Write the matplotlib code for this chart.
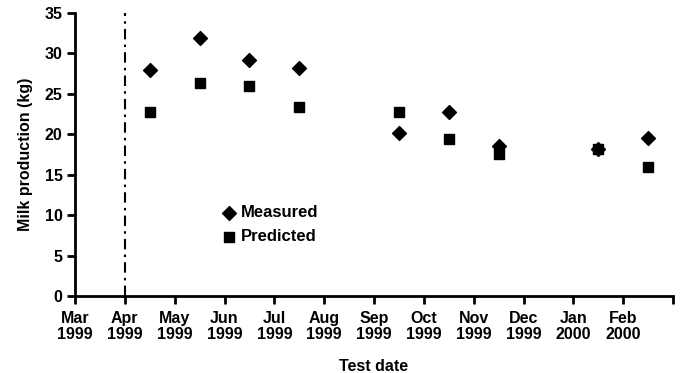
import numpy as np
import matplotlib.pyplot as plt

plt.rcParams['font.family'] = ['Liberation Sans', 'DejaVu Sans']
plt.rcParams['font.weight'] = 'bold'

# tick labels (month start), Mar 1999 .. Mar 2000
month_labels = ['Mar\n1999', 'Apr\n1999', 'May\n1999', 'Jun\n1999', 'Jul\n1999',
                'Aug\n1999', 'Sep\n1999', 'Oct\n1999', 'Nov\n1999', 'Dec\n1999',
                'Jan\n2000', 'Feb\n2000', '']

# test dates as month index (0 = start of Mar 1999), mid-month
test_date = [1.5, 2.5, 3.5, 4.5, 6.5, 7.5, 8.5, 10.5, 11.5]
measured = [28.0, 31.9, 29.2, 28.2, 20.1, 22.8, 18.6, 18.2, 19.6]
predicted = [22.7, 26.3, 26.0, 23.4, 22.7, 19.4, 17.6, 18.2, 15.9]

fig = plt.figure(figsize=(6.81, 3.73), dpi=100)
ax = fig.add_axes([75/681, 1 - 296/373, 598/681, 283/373])

ax.scatter(test_date, measured, marker='D', s=50, color='black', zorder=3,
           label='Measured')
ax.scatter(test_date, predicted, marker='s', s=45, color='black', zorder=3,
           label='Predicted')
ax.axvline(1, color='black', lw=1.5, ls=(0, (5, 2.5, 1.2, 2.5)))

ax.set_xlim(0, 12)
ax.set_ylim(0, 35)
ax.set_xticks(np.arange(13))
ax.set_xticklabels(month_labels, linespacing=1.05)
ax.set_yticks(np.arange(0, 36, 5))

for s in ['top', 'right']:
    ax.spines[s].set_visible(False)
for s in ['left', 'bottom']:
    ax.spines[s].set_linewidth(2)
ax.tick_params(direction='out', length=6, width=2, labelsize=11.5, pad=3)
ax.tick_params(axis='x', pad=5)

ax.set_ylabel('Milk production (kg)', fontsize=11.5, fontweight='bold',
              labelpad=8)
ax.set_xlabel('Test date', fontsize=11.5, fontweight='bold', labelpad=12)

ax.legend(loc='upper left', bbox_to_anchor=(0.232, 0.345), frameon=False,
          fontsize=12, handletextpad=0.25, handlelength=1.0,
          labelspacing=0.55, borderaxespad=0)

fig.savefig('out.png', dpi=100)
